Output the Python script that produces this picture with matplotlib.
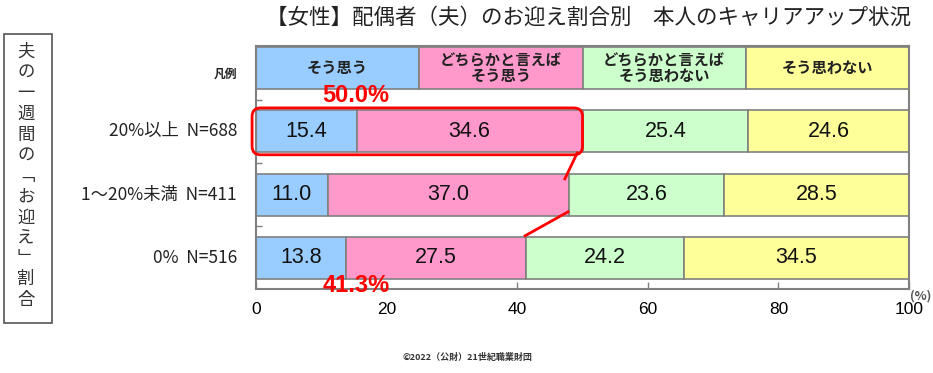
import matplotlib
matplotlib.use("Agg")
import matplotlib.pyplot as plt
from matplotlib.patches import FancyBboxPatch, Rectangle
import numpy as np

plt.rcParams['font.family'] = ['Noto Sans CJK JP', 'DejaVu Sans']

title = "【女性】配偶者（夫）のお迎え割合別　本人のキャリアアップ状況"
series_names = ["そう思う", "どちらかと言えば\nそう思う", "どちらかと言えば\nそう思わない", "そう思わない"]
categories = ["20%以上  N=688", "1～20%未満  N=411", "0%  N=516"]
v_agree = [15.4, 11.0, 13.8]
v_some_agree = [34.6, 37.0, 27.5]
v_some_disagree = [25.4, 23.6, 24.2]
v_disagree = [24.6, 28.5, 34.5]
colors = ["#99CCFF", "#FF99CC", "#CCFFCC", "#FFFF99"]
xticks = [0, 20, 40, 60, 80, 100]
side_label = ["夫", "の", "一", "週", "間", "の", "﹁", "お", "迎", "え", "﹂", "割", "合"]
note_top = "50.0%"
note_bottom = "41.3%"

W, H = 933, 373
fig = plt.figure(figsize=(W / 100, H / 100), dpi=100)
ax = fig.add_axes([256 / W, 1 - 289 / H, (909 - 256) / W, (289 - 46) / H])

series = [v_agree, v_some_agree, v_some_disagree, v_disagree]
ypos = np.arange(1, len(categories) + 1)
bh = 0.66
edge = "#808080"

# legend row drawn as a stacked bar at y=0
legend_vals = [25, 25, 25, 25]
left = 0
for i, (val, name) in enumerate(zip(legend_vals, series_names)):
    ax.barh(0, val, left=left, height=bh, color=colors[i], edgecolor=edge, linewidth=1.2)
    ax.text(left + val / 2, 0, name, ha="center", va="center", fontsize=11,
            fontweight="bold", color="#222222", linespacing=1.0)
    left += val

lefts = np.zeros(len(categories))
for i, vals in enumerate(series):
    vals = np.array(vals)
    ax.barh(ypos, vals, left=lefts, height=bh, color=colors[i], edgecolor=edge, linewidth=1.2)
    for y, l, v in zip(ypos, lefts, vals):
        ax.text(l + v / 2, y, f"{v:.1f}", ha="center", va="center", fontsize=15.5,
                family=["Liberation Sans", "DejaVu Sans"], color="#111111")
    lefts = lefts + vals

ax.set_xlim(0, 100)
ax.set_ylim(3.49, -0.348)

for s in ax.spines.values():
    s.set_color(edge)
    s.set_linewidth(1.5)

ax.set_xticks(xticks)
ax.set_xticklabels([str(t) for t in xticks], family=["Liberation Sans", "DejaVu Sans"], fontsize=12.5)
ax.tick_params(axis="x", direction="in", length=5, color=edge, pad=9, width=1)
ax.set_yticks([0.5, 1.5, 2.5])
ax.set_yticklabels([])
ax.tick_params(axis="y", direction="in", length=4, color=edge, width=1)

for y, c in zip(ypos, categories):
    ax.text(-2.9, y, c, ha="right", va="center", fontsize=12.5, color="#222222",
            transform=ax.transData, clip_on=False)
ax.text(-2.9, 0.1, "凡例", ha="right", va="center", fontsize=8.5, fontweight="bold",
        color="#222222", clip_on=False)

# red annotation: rounded box, connector lines, totals
cum1 = v_agree[0] + v_some_agree[0]
cum2 = v_agree[1] + v_some_agree[1]
cum3 = v_agree[2] + v_some_agree[2]
box = FancyBboxPatch((-0.6, 1 - 0.37), cum1 + 0.6, 0.74,
                     boxstyle="round,pad=0,rounding_size=1.3", mutation_aspect=0.103,
                     fill=False, edgecolor="#FF0000", linewidth=2, clip_on=False, zorder=5)
ax.add_patch(box)
ax.plot([cum1 - 0.8, cum2 - 0.7], [1.34, 1.75], color="#FF0000", lw=2, zorder=5, clip_on=False)
ax.plot([cum2 - 0.2, cum3 - 0.1], [2.27, 2.65], color="#FF0000", lw=2, zorder=5, clip_on=False)
ax.text(15.3, 0.43, note_top, ha="center", va="center", fontsize=17, fontweight="bold",
        color="#FF0000", family=["Liberation Sans", "DejaVu Sans"], zorder=6)
ax.text(15.3, 3.43, note_bottom, ha="center", va="center", fontsize=17, fontweight="bold",
        color="#FF0000", family=["Liberation Sans", "DejaVu Sans"], zorder=6, clip_on=False)

fig.text(921 / W, 1 - 296 / H, "(%)", ha="center", va="center", fontsize=9,
         fontweight="bold", color="#555555")

# title
fig.text(589 / W, 1 - 18 / H, title, ha="center", va="center", fontsize=15.5, color="#222222")

# copyright
fig.text(467 / W, 1 - 357 / H, "©2022（公財）21世紀職業財団", ha="center", va="center",
         fontsize=6.5, fontweight="bold", color="#333333")

# left vertical label box
fig.patches.append(Rectangle((4 / W, 1 - 323 / H), 48 / W, 289 / H, transform=fig.transFigure,
                             fill=False, edgecolor="#555555", linewidth=1.2))
y0, y1 = 52, 300
for k, ch in enumerate(side_label):
    yy = y0 + (y1 - y0) * k / (len(side_label) - 1)
    fig.text(26 / W, 1 - yy / H, ch, ha="center", va="center", fontsize=12.5, color="#333333")

fig.savefig("out.png", dpi=100)
